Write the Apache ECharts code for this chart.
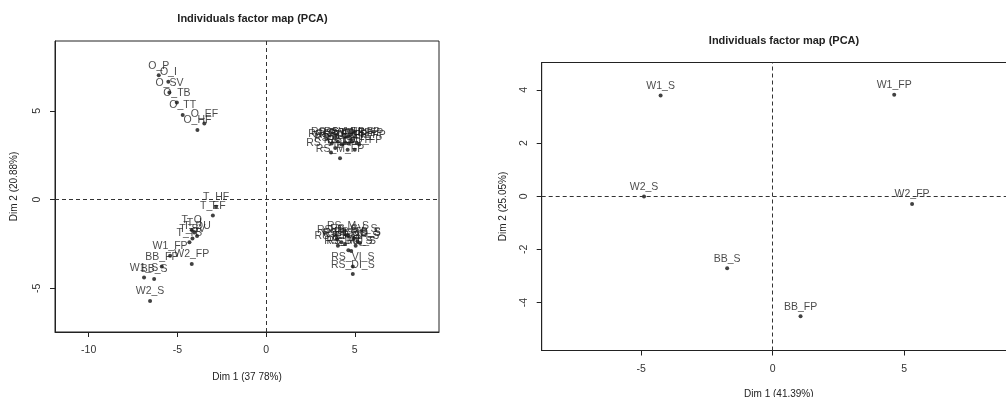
<!DOCTYPE html>
<html>
<head>
<meta charset="utf-8">
<script src="https://cdn.jsdelivr.net/npm/echarts@6/dist/echarts.min.js"></script>
<style>html,body{margin:0;padding:0;background:#fff}#c{width:1006px;height:397px}</style>
</head>
<body>
<div id="c"></div>
<script>
// ---- Left plot data (Dim 1 37.78%, Dim 2 20.88%) ----
const leftNames = [
  'O_P','O_I','O_SV','O_TB','O_TT','O_EF','O_HF',
  'T_HF','T_EF','T_O','T_I','T_DU','T_SV','T_TB',
  'W1_FP','W2_FP','BB_FP','W1_S','BB_S','W2_S',
  'RS_P_FP','RS_I_FP','RS_SV_FP','RS_TB_FP','RS_TT_FP','RS_M_FP','RS_VI_FP','RS_DI_FP','RS_MU_FP','RS_HF_FP','RS_EF_FP','RS_O_FP','RS_DU_FP',
  'RS_M_S','RS_P_S','RS_I_S','RS_SV_S','RS_TB_S','RS_TT_S','RS_O_S','RS_EF_S','RS_HF_S','RS_DU_S','RS_MU_S','RS_VI_S','RS_DI_S'
];
const leftDim1 = [
  -6.05,-5.51,-5.45,-5.03,-4.70,-3.48,-3.87,
  -2.82,-3.00,-4.19,-4.05,-3.89,-4.15,-4.32,
  -5.41,-4.19,-5.88,-6.88,-6.31,-6.54,
  3.70,3.90,4.05,4.25,4.45,4.17,3.66,4.65,4.85,5.10,5.25,4.60,5.00,
  4.62,4.00,4.25,4.95,5.15,4.45,5.30,4.05,5.05,4.64,4.80,4.89,4.89
];
const leftDim2 = [
  7.00,6.63,6.03,5.46,4.76,4.29,3.92,
  -0.41,-0.90,-1.72,-1.85,-2.05,-2.20,-2.40,
  -3.16,-3.63,-3.77,-4.39,-4.48,-5.71,
  3.15,2.90,3.25,3.10,3.20,2.32,2.65,3.15,3.25,3.20,3.10,2.80,2.80,
  -2.03,-2.25,-2.40,-2.20,-2.35,-2.50,-2.45,-2.60,-2.60,-2.86,-2.90,-3.77,-4.20
];
const leftXTicks = [-10, -5, 0, 5];
const leftYTicks = [-5, 0, 5];

// ---- Right plot data (Dim 1 41.39%, Dim 2 25.05%) ----
const rightNames = ['W1_S','W1_FP','W2_S','W2_FP','BB_S','BB_FP'];
const rightDim1 = [-4.26, 4.62, -4.89, 5.30, -1.73, 1.06];
const rightDim2 = [3.79, 3.82, -0.01, -0.29, -2.71, -4.51];
const rightXTicks = [-5, 0, 5];
const rightYTicks = [-4, -2, 0, 2, 4];

const titles = ['Individuals factor map (PCA)', 'Individuals factor map (PCA)'];
const xNames = ['Dim 1 (37 78%)', 'Dim 1 (41.39%)'];
const yNames = ['Dim 2 (20.88%)', 'Dim 2 (25.05%)'];

const FONT = '"Liberation Sans", Arial, sans-serif';
const chart = echarts.init(document.getElementById('c'), null, {renderer: 'canvas'});

function pts(n, x, y) { return n.map((nm, i) => ({name: nm, value: [x[i], y[i]]})); }

function xAxis(gi, min, max, ticks, name, gap, margin) {
  return {
    type: 'value', gridIndex: gi, min: min, max: max,
    name: name, nameLocation: 'middle', nameGap: gap,
    nameTextStyle: {fontFamily: FONT, fontSize: 10, color: '#222'},
    axisLine: {show: true, onZero: false, lineStyle: {color: '#222', width: 1}},
    axisTick: {show: true, length: 5, inside: false, customValues: ticks, lineStyle: {color: '#222'}},
    axisLabel: {show: true, customValues: ticks, margin: margin, fontFamily: FONT, fontSize: 10.5, color: '#333'},
    splitLine: {show: false}
  };
}
function yAxis(gi, min, max, ticks, name, gap) {
  return {
    type: 'value', gridIndex: gi, min: min, max: max,
    name: name, nameLocation: 'middle', nameGap: gap, nameRotate: 90,
    nameTextStyle: {fontFamily: FONT, fontSize: 10, color: '#222'},
    axisLine: {show: true, onZero: false, lineStyle: {color: '#222', width: 1}},
    axisTick: {show: true, length: 5, inside: false, customValues: ticks, lineStyle: {color: '#222'}},
    axisLabel: {show: true, customValues: ticks, rotate: 90, margin: 12, fontFamily: FONT, fontSize: 10.5, color: '#333'},
    splitLine: {show: false}
  };
}
function series(gi, data, fs) {
  return {
    type: 'scatter', xAxisIndex: gi, yAxisIndex: gi,
    data: data, symbol: 'circle', symbolSize: 4,
    itemStyle: {color: '#111'},
    label: {show: true, position: 'top', distance: 2, formatter: '{b}',
            fontFamily: FONT, fontSize: fs, color: '#1a1a1a'},
    markLine: {
      silent: true, symbol: 'none', animation: false,
      label: {show: false},
      lineStyle: {color: '#333', type: [4, 3], width: 1},
      data: [{xAxis: 0}, {yAxis: 0}]
    },
    animation: false
  };
}

chart.setOption({
  backgroundColor: '#fff',
  animation: false,
  title: [
    {text: titles[0], left: 247.5, top: 8, textAlign: 'center',
     textStyle: {fontFamily: FONT, fontSize: 11, fontWeight: 'bold', color: '#222'}},
    {text: titles[1], left: 779, top: 30, textAlign: 'center',
     textStyle: {fontFamily: FONT, fontSize: 11, fontWeight: 'bold', color: '#222'}}
  ],
  grid: [
    {left: 55, top: 41, width: 384, height: 291, outerBoundsMode: 'none', containLabel: false,
     show: true, borderColor: '#222', borderWidth: 1, backgroundColor: 'transparent'},
    {left: 541.7, top: 62.5, width: 474.3, height: 288, outerBoundsMode: 'none', containLabel: false,
     show: true, borderColor: '#222', borderWidth: 1, backgroundColor: 'transparent'}
  ],
  xAxis: [
    xAxis(0, -11.9, 9.75, leftXTicks, xNames[0], 40, 13),
    xAxis(1, -8.78, 9.25, rightXTicks, xNames[1], 39, 13)
  ],
  yAxis: [
    yAxis(0, -7.46, 8.93, leftYTicks, yNames[0], 36),
    yAxis(1, -5.8, 5.03, rightYTicks, yNames[1], 33)
  ],
  series: [
    series(0, pts(leftNames, leftDim1, leftDim2), 10.5),
    series(1, pts(rightNames, rightDim1, rightDim2), 10.5)
  ]
});
</script>
</body>
</html>
